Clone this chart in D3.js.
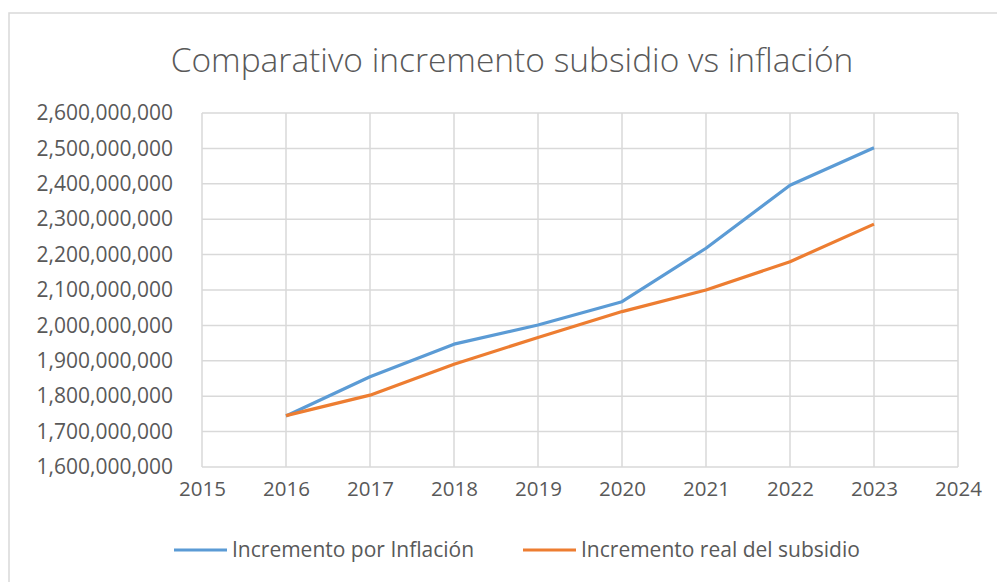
<!DOCTYPE html>
<html>
<head>
<meta charset="utf-8">
<title>Comparativo incremento subsidio vs inflación</title>
<script src="https://cdn.jsdelivr.net/npm/d3@7"></script>
<style>
  body { margin: 0; background: #fff; }
  text { font-family: "Open Sans", sans-serif; fill: #595959; }
</style>
</head>
<body>
<svg id="chart"></svg>
<script>
const years = [2016, 2017, 2018, 2019, 2020, 2021, 2022, 2023]
const inflacion = [1744000000, 1855000000, 1947000000, 2001000000, 2067000000, 2218000000, 2396000000, 2502000000]
const real = [1745000000, 1803000000, 1890000000, 1966000000, 2039000000, 2100000000, 2180000000, 2286000000]
const yTicks = [1600000000, 1700000000, 1800000000, 1900000000, 2000000000, 2100000000, 2200000000, 2300000000, 2400000000, 2500000000, 2600000000]
const xTicks = [2015, 2016, 2017, 2018, 2019, 2020, 2021, 2022, 2023, 2024]
const seriesNames = ["Incremento por Inflación", "Incremento real del subsidio"]
const colors = ["#5B9BD5", "#ED7D31"]

const width = 997, height = 582
const plot = { left: 202, right: 958, top: 113, bottom: 467 }

const svg = d3.select("#chart").attr("width", width).attr("height", height)

// outer chart frame
svg.append("rect")
    .attr("x", 9).attr("y", 13)
    .attr("width", width + 10).attr("height", height + 10)
    .attr("fill", "none").attr("stroke", "#d9d9d9").attr("stroke-width", 1.5)

svg.append("text")
    .attr("x", 512).attr("y", 72)
    .attr("text-anchor", "middle")
    .style("font-size", "33.5px").style("font-weight", 300)
    .text("Comparativo incremento subsidio vs inflación")

const x = d3.scaleLinear().domain([2015, 2024]).range([plot.left, plot.right])
const y = d3.scaleLinear().domain([1600000000, 2600000000]).range([plot.bottom, plot.top])

// gridlines
svg.append("g").selectAll("line").data(yTicks).enter().append("line")
    .attr("x1", plot.left).attr("x2", plot.right)
    .attr("y1", d => y(d)).attr("y2", d => y(d))
    .attr("stroke", "#d9d9d9").attr("stroke-width", 1.5)

svg.append("g").selectAll("line").data(xTicks).enter().append("line")
    .attr("x1", d => x(d)).attr("x2", d => x(d))
    .attr("y1", plot.top).attr("y2", plot.bottom)
    .attr("stroke", "#d9d9d9").attr("stroke-width", 1.5)

// axes (labels only)
const fmt = d3.format(",")
const yAxis = svg.append("g")
    .attr("transform", `translate(${plot.left - 29},0)`)
    .call(d3.axisLeft(y).tickValues(yTicks).tickFormat(fmt).tickSize(0).tickPadding(0))
yAxis.select(".domain").remove()
yAxis.selectAll("text").style("font-size", "21px").style("font-family", null).attr("fill", null)

const xAxis = svg.append("g")
    .attr("transform", `translate(0,${plot.bottom + 14})`)
    .call(d3.axisBottom(x).tickValues(xTicks).tickFormat(d3.format("d")).tickSize(0).tickPadding(0))
xAxis.select(".domain").remove()
xAxis.selectAll("text").style("font-size", "20.5px").style("font-family", null).attr("fill", null)

// lines
const line = d3.line().x((d, i) => x(years[i])).y(d => y(d))
;[inflacion, real].forEach((s, i) => {
    svg.append("path")
        .datum(s)
        .attr("d", line)
        .attr("fill", "none")
        .attr("stroke", colors[i])
        .attr("stroke-width", 3.2)
        .attr("stroke-linejoin", "round")
})

// legend
const legendX = [174, 523]
seriesNames.forEach((name, i) => {
    const g = svg.append("g").attr("transform", `translate(${legendX[i]},550)`)
    g.append("line").attr("x1", 0).attr("x2", 53).attr("y1", 0).attr("y2", 0)
        .attr("stroke", colors[i]).attr("stroke-width", 3.2)
    g.append("text").attr("x", 58).attr("y", 7).style("font-size", "21px").text(name)
})
</script>
</body>
</html>
